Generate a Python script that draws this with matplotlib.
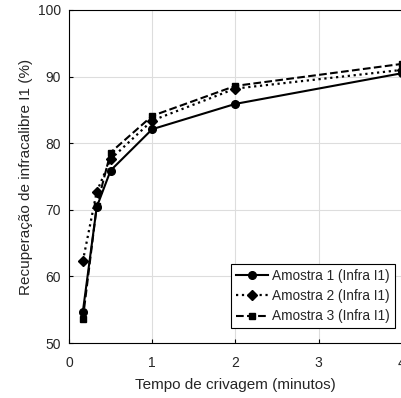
import matplotlib.pyplot as plt

# tempo em minutos
tempo = [1/6, 1/3, 0.5, 1, 2, 4]
amostra1 = [54.7, 70.4, 75.9, 82.1, 85.9, 90.5]
amostra2 = [62.3, 72.7, 77.6, 83.4, 88.2, 91.0]
amostra3 = [53.6, 70.5, 78.6, 84.1, 88.6, 91.9]

plt.rcParams['font.family'] = ['Liberation Sans', 'DejaVu Sans']
cinza = '#262626'

fig = plt.figure(figsize=(4.01, 3.98), dpi=100)
ax = fig.add_axes([0.172, 0.138, 0.83, 0.837])

ax.plot(tempo, amostra1, '-', color='black', marker='o', markersize=5.5, lw=1.5, label='Amostra 1 (Infra I1)')
ax.plot(tempo, amostra2, ':', color='black', marker='D', markersize=5, lw=1.6, label='Amostra 2 (Infra I1)')
ax.plot(tempo, amostra3, '--', color='black', marker='s', markersize=5, lw=1.5, label='Amostra 3 (Infra I1)')

ax.set_xlim(0, 4)
ax.set_ylim(50, 100)
ax.set_xticks([0, 1, 2, 3, 4])
ax.set_yticks([50, 60, 70, 80, 90, 100])
ax.grid(True, color='#dddddd', lw=0.8)
ax.tick_params(labelsize=10, direction='in', length=3, labelcolor=cinza, pad=6)
ax.tick_params(axis='x', pad=9)
ax.set_xlabel('Tempo de crivagem (minutos)', fontsize=11, color=cinza, labelpad=6)
ax.set_ylabel('Recuperação de infracalibre I1 (%)', fontsize=11, color=cinza, labelpad=3)

leg = ax.legend(loc='lower right', fontsize=9.8, fancybox=False, edgecolor='black',
                framealpha=1, handlelength=2.4, handletextpad=0.3, borderpad=0.35,
                labelspacing=0.45, borderaxespad=0, bbox_to_anchor=(0.979, 0.045))
leg.get_frame().set_linewidth(0.8)
for t in leg.get_texts():
    t.set_color(cinza)

fig.savefig('out.png', dpi=100)
